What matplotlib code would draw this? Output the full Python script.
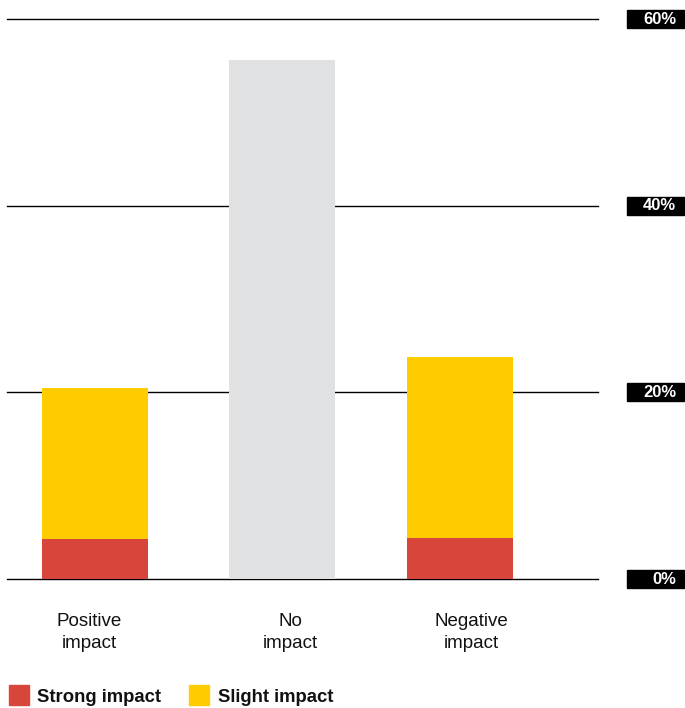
import matplotlib
matplotlib.use("Agg")
import matplotlib.pyplot as plt
from matplotlib.patches import Rectangle

# ---------------------------------------------------------------------------
# data (percent of respondents)
# ---------------------------------------------------------------------------
categories = ["Positive\nimpact", "No\nimpact", "Negative\nimpact"]
strong = [4.3, 0.0, 4.4]
slight = [16.2, 0.0, 19.4]
neutral = [0.0, 55.6, 0.0]
yticks = [0, 20, 40, 60]

RED = "#D8453A"
YELLOW = "#FFCC00"
GREY = "#E0E1E3"

plt.rcParams["font.family"] = ["Liberation Sans", "DejaVu Sans"]

W, H = 685, 708
fig = plt.figure(figsize=(W / 100, H / 100), dpi=100)
ax = fig.add_axes([7 / W, 1 - 579 / H, (598 - 7) / W, (579 - 19) / H])

# layout: axes x runs in pixel units, bars sit where the original put them
bar_x = [95, 282, 460]
label_x = [89.5, 290, 471]
width = 106

ax.bar(bar_x, strong, width, color=RED, zorder=3)
ax.bar(bar_x, slight, width, bottom=strong, color=YELLOW, zorder=3)
ax.bar(bar_x, neutral, width, color=GREY, zorder=3)

ax.set_xlim(7, 598)
ax.set_ylim(0, 60)

# gridlines
for t in yticks:
    ax.axhline(t, color="black", linewidth=1.0, zorder=1, clip_on=False)

for s in ax.spines.values():
    s.set_visible(False)
ax.set_xticks([])
ax.set_yticks([])

# category labels under the bars
for xi, lab in zip(label_x, categories):
    ax.text(xi, -5.75, lab, ha="center", va="center", fontsize=13.5,
            linespacing=1.38, color="#111111")

# tick labels in black boxes on the right
for t in yticks:
    _, yd = ax.transData.transform((0, t))
    yf = yd / H
    fig.patches.append(Rectangle((627 / W, yf - 9 / H), 57 / W, 18 / H,
                                 transform=fig.transFigure, color="black",
                                 zorder=5))
    fig.text(676 / W, yf, f"{t}%", ha="right", va="center", color="white",
             fontsize=12, fontweight="bold", zorder=6)

# legend
leg = [("Strong impact", RED, 9, 37), ("Slight impact", YELLOW, 189, 218)]
for lab, col, xs, xt in leg:
    fig.patches.append(Rectangle((xs / W, 1 - 705 / H), 20 / W, 20 / H,
                                 transform=fig.transFigure, color=col))
    fig.text(xt / W, 1 - 697 / H, lab, ha="left", va="center",
             fontsize=13.3, fontweight="bold", color="#111111")

fig.savefig("out.png", dpi=100)
